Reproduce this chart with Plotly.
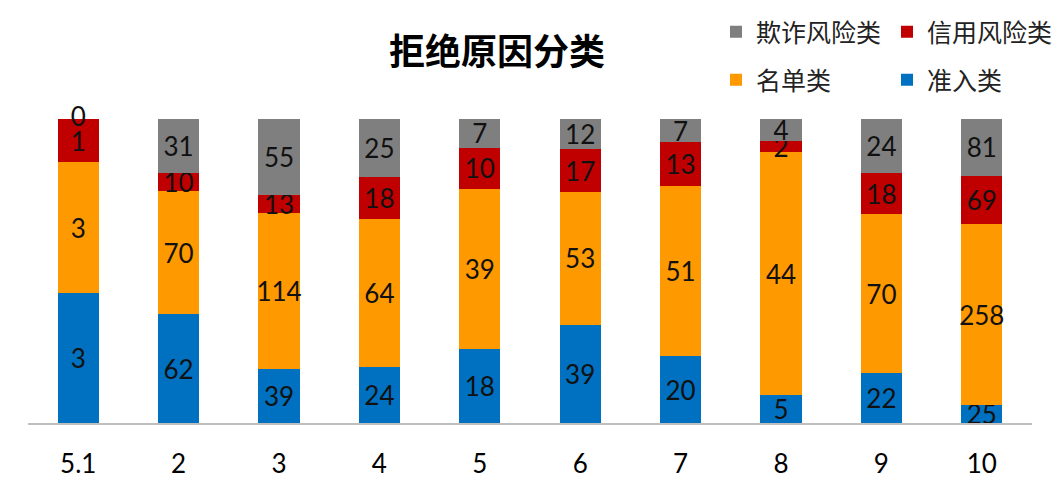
import plotly.graph_objects as go

categories = ["5.1", "2", "3", "4", "5", "6", "7", "8", "9", "10"]
zhunru = [3, 62, 39, 24, 18, 39, 20, 5, 22, 25]        # 准入类
mingdan = [3, 70, 114, 64, 39, 53, 51, 44, 70, 258]    # 名单类
xinyong = [1, 10, 13, 18, 10, 17, 13, 2, 18, 69]       # 信用风险类
qizha = [0, 31, 55, 25, 7, 12, 7, 4, 24, 81]           # 欺诈风险类

series = [
    ("准入类", zhunru, "#0070C0", "legend4"),
    ("名单类", mingdan, "#FF9900", "legend3"),
    ("信用风险类", xinyong, "#C00000", "legend2"),
    ("欺诈风险类", qizha, "#7F7F7F", "legend"),
]

NUM_FONT = "Lato, 'Liberation Sans', sans-serif"
CJK_FONT = "'Noto Sans CJK SC', sans-serif"

fig = go.Figure()
for name, vals, color, lg in series:
    fig.add_trace(go.Bar(
        x=categories, y=vals, name=name, marker_color=color,
        marker_line_width=0,
        text=[str(v) for v in vals], texttemplate="%{text}",
        textposition="inside", insidetextanchor="middle", textangle=0,
        textfont=dict(color="#111111", size=26, family=NUM_FONT),
        constraintext="none", cliponaxis=False,
        width=0.41, legend=lg,
    ))

# labels for zero-height segments (plotly does not draw text on empty bars)
zx, zy, zt = [], [], []
cum = [0.0] * len(categories)
for name, vals, color, lg in series:
    for i, v in enumerate(vals):
        tot = zhunru[i] + mingdan[i] + xinyong[i] + qizha[i]
        if v == 0:
            zx.append(categories[i])
            zy.append(cum[i] / tot * 100)
            zt.append(str(v))
        cum[i] += v
fig.add_trace(go.Scatter(
    x=zx, y=zy, text=zt, mode="text", textposition="middle center",
    textfont=dict(color="#111111", size=26, family=NUM_FONT),
    showlegend=False, cliponaxis=False, hoverinfo="skip",
))

leg_common = dict(xref="container", yref="container", xanchor="left", yanchor="middle",
                  font=dict(family=CJK_FONT, size=25, color="#222"),
                  bgcolor="rgba(0,0,0,0)", borderwidth=0, itemwidth=30)

fig.update_layout(
    width=1056, height=488,
    barmode="stack", barnorm="percent",
    plot_bgcolor="white", paper_bgcolor="white",
    margin=dict(l=28, r=24, t=119, b=65, autoexpand=False),
    title=dict(text="<b>拒绝原因分类</b>", x=497/1056, xanchor="center",
               y=1-52/488, yanchor="middle",
               font=dict(family=CJK_FONT, size=36, color="black")),
    uniformtext=dict(mode="show", minsize=26),
    showlegend=True,
    legend=dict(x=716/1056, y=1-32/488, **leg_common),
    legend2=dict(x=887/1056, y=1-32/488, **leg_common),
    legend3=dict(x=716/1056, y=1-80/488, **leg_common),
    legend4=dict(x=887/1056, y=1-80/488, **leg_common),
    xaxis=dict(type="category", showline=True, linecolor="#BFBFBF", linewidth=1.5, ticks="",
               tickfont=dict(family=NUM_FONT, size=26, color="black"),
               ticklabelstandoff=17, showgrid=False, zeroline=False),
    yaxis=dict(range=[0, 100.001], visible=False, showgrid=False, zeroline=False),
)

fig.write_html("out.html")
